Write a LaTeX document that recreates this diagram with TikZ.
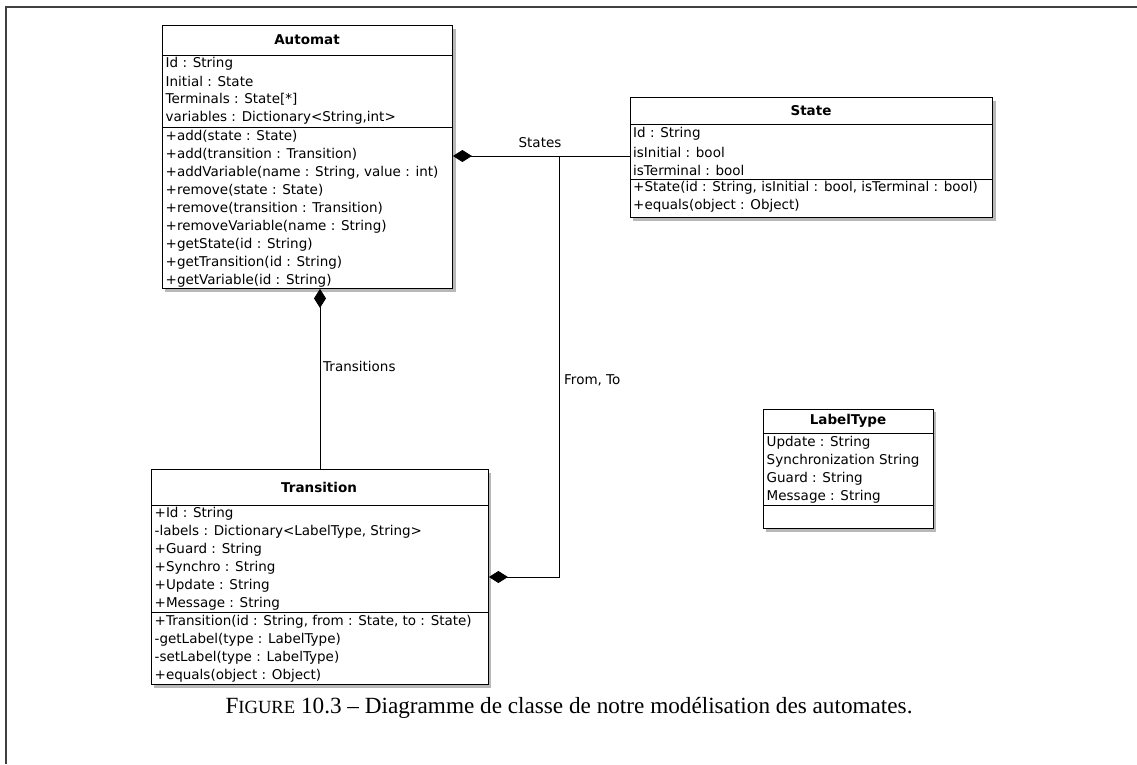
\documentclass[tikz,border=0pt]{standalone}
\usepackage{fontspec}
\setmainfont{Liberation Serif}
\newfontfamily\umlfont{DejaVu Sans}
\usetikzlibrary{arrows.meta}
\tikzset{
  classbox/.style={draw=black, line width=0.9pt, fill=white, inner sep=0pt, anchor=north west},
  shadowbox/.style={fill=black!28},
  sepline/.style={draw=black, line width=0.9pt},
  txt/.style={font=\umlfont\fontsize{13.5}{15}\selectfont, anchor=west, inner sep=0pt},
  head/.style={font=\umlfont\bfseries\fontsize{13.5}{15}\selectfont, inner sep=0pt},
  comp/.style={draw=black, line width=0.9pt, {Diamond[length=19pt,width=12pt]}-},
  lab/.style={font=\umlfont\fontsize{13.5}{15}\selectfont, inner sep=0pt},
  frame/.style={draw=black!75, line width=1.6pt}
}
\begin{document}
\begin{tikzpicture}[x=1pt,y=-1pt]
\useasboundingbox (0,0) rectangle (1137,764);
\fill[white] (0,0) rectangle (1137,764);
% outer frame (top and left edges visible)
\coordinate (fr) at (6,7);
\draw[frame] (fr |- 0,764) -- (fr) -- (1137,7);

% ---------- Automat ----------
\fill[shadowbox] (165,29) rectangle (456,292);
\node[classbox, minimum width=290pt, minimum height=263pt] (automat) at (162,25) {};
\draw[sepline] (automat.west |- 0,55) -- (automat.east |- 0,55);
\draw[sepline] (automat.west |- 0,127) -- (automat.east |- 0,127);
\node[head] (automat-h) at (307,40) {Automat};
\foreach \t [count=\i] in {{Id : String},{Initial : State},{Terminals : State[*]},{variables : Dictionary<String,int>}}
  \node[txt] (automat-a\i) at (165.5,{45.5+18*\i}) {\t};
\foreach \t [count=\i] in {{+add(state : State)},{+add(transition : Transition)},{+addVariable(name : String, value : int)},{+remove(state : State)},{+remove(transition : Transition)},{+removeVariable(name : String)},{+getState(id : String)},{+getTransition(id : String)},{+getVariable(id : String)}}
  \node[txt] (automat-m\i) at (165.5,{118.5+18*\i}) {\t};

% ---------- State ----------
\fill[shadowbox] (633,101) rectangle (996,221);
\node[classbox, minimum width=362pt, minimum height=120pt] (state) at (630,97) {};
\draw[sepline] (state.west |- 0,124) -- (state.east |- 0,124);
\draw[sepline] (state.west |- 0,179) -- (state.east |- 0,179);
\node[head] (state-h) at (811,111) {State};
\foreach \t [count=\i] in {{Id : String},{isInitial : bool},{isTerminal : bool}}
  \node[txt] (state-a\i) at (633,{115+18.5*\i}) {\t};
\foreach \t [count=\i] in {{+State(id : String, isInitial : bool, isTerminal : bool)},{+equals(object : Object)}}
  \node[txt] (state-m\i) at (633,{169+18.5*\i}) {\t};

% ---------- Transition ----------
\fill[shadowbox] (154,473) rectangle (491,688);
\node[classbox, minimum width=337pt, minimum height=215pt] (transition) at (151,469) {};
\draw[sepline] (transition.west |- 0,505) -- (transition.east |- 0,505);
\draw[sepline] (transition.west |- 0,612) -- (transition.east |- 0,612);
\node[head] (transition-h) at (319,487) {Transition};
\foreach \t [count=\i] in {{+Id : String},{-labels : Dictionary<LabelType, String>},{+Guard : String},{+Synchro : String},{+Update : String},{+Message : String}}
  \node[txt] (transition-a\i) at (154.5,{495.5+18*\i}) {\t};
\foreach \t [count=\i] in {{+Transition(id : String, from : State, to : State)},{-getLabel(type : LabelType)},{-setLabel(type : LabelType)},{+equals(object : Object)}}
  \node[txt] (transition-m\i) at (154.5,{603.5+18*\i}) {\t};

% ---------- LabelType ----------
\fill[shadowbox] (766,412) rectangle (936,532);
\node[classbox, minimum width=170pt, minimum height=119pt] (labeltype) at (763,409) {};
\draw[sepline] (labeltype.west |- 0,433) -- (labeltype.east |- 0,433);
\draw[sepline] (labeltype.west |- 0,505) -- (labeltype.east |- 0,505);
\node[head] (labeltype-h) at (848,421) {LabelType};
\foreach \t [count=\i] in {{Update : String},{Synchronization String},{Guard : String},{Message : String}}
  \node[txt] (labeltype-a\i) at (766.5,{425+18*\i}) {\t};

% ---------- connectors ----------
\coordinate (sj) at (559,156);
\coordinate (fj) at (559,577);
\coordinate (tx) at (320,0);
\draw[comp] (automat.east |- sj) -- (state.west |- sj);
\draw[comp] (transition.east |- fj) -- (fj) -- (sj);
\draw[comp] (automat.south -| tx) -- (transition.north -| tx);
\node[lab] (lab-states) at (540,143) {States};
\node[lab, anchor=west] (lab-trans) at (323,366) {Transitions};
\node[lab, anchor=west] (lab-fromto) at (564,380) {From, To};

% ---------- caption ----------
\node[font=\fontsize{23.2}{27}\selectfont, inner sep=0pt] (caption) at (569,708)
  {F{\fontsize{18.6}{20}\selectfont IGURE} 10.3 -- Diagramme de classe de notre modélisation des automates.};
\end{tikzpicture}
\end{document}
